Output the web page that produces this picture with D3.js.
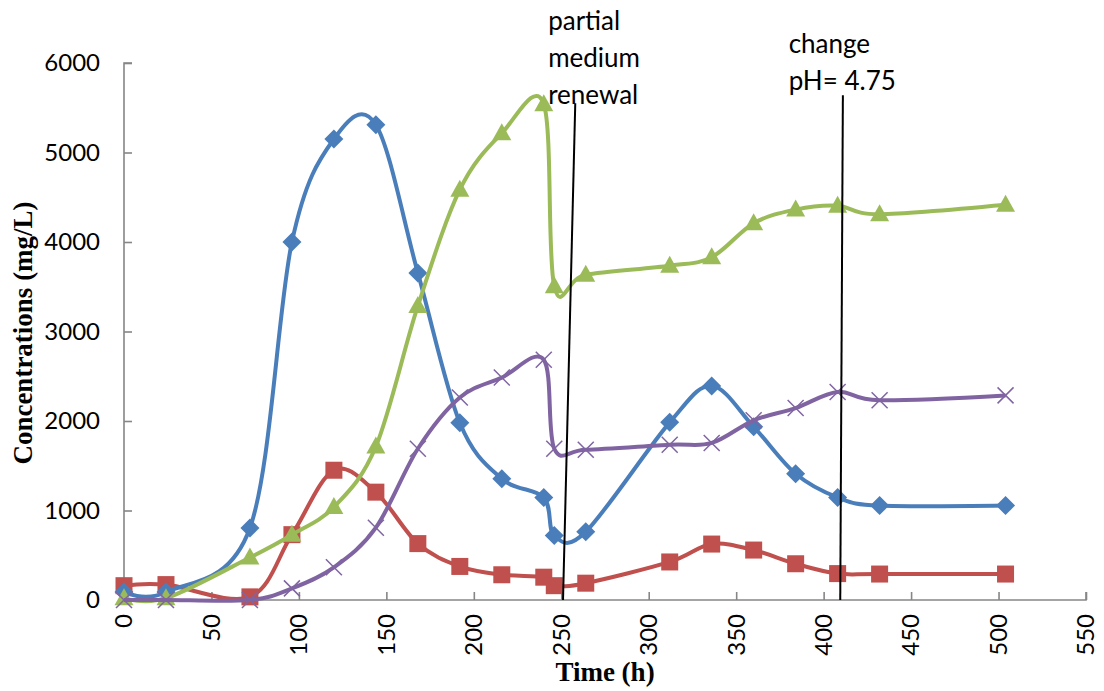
<!DOCTYPE html>
<html>
<head>
<meta charset="utf-8">
<script src="https://cdn.jsdelivr.net/npm/d3@7/dist/d3.min.js"></script>
<style>
  html, body { margin: 0; padding: 0; background: #fff; }
  svg { display: block; }
</style>
</head>
<body>
<svg id="chart" width="1104" height="691"></svg>
<script>
// ---- data ----
const timeH   = [0, 24, 72, 96, 120, 144, 168, 192, 216, 240, 246, 264, 312, 336, 360, 384, 408, 432, 504];
const blueS   = [90, 90, 805, 4000, 5150, 5310, 3655, 1980, 1355, 1145, 720, 762, 1985, 2390, 1935, 1410, 1146, 1055, 1055];
const redS    = [160, 172, 35, 730, 1450, 1205, 630, 375, 282, 255, 160, 188, 425, 625, 558, 405, 295, 290, 290];
const greenS  = [20, 20, 475, 730, 1039, 1715, 3285, 4585, 5215, 5540, 3505, 3635, 3735, 3830, 4210, 4362, 4405, 4310, 4415];
const purpleS = [0, 0, 0, 130, 365, 808, 1690, 2262, 2485, 2685, 1690, 1678, 1735, 1755, 2008, 2145, 2325, 2232, 2286];

const xTicks = [0, 50, 100, 150, 200, 250, 300, 350, 400, 450, 500, 550];
const yTicks = [0, 1000, 2000, 3000, 4000, 5000, 6000];

const annotations = [
  { lines: ["partial", "medium", "renewal"], tx: 242.5, ty0: 6369, x1: 258, y1: 5550, x2: 251, y2: 0 },
  { lines: ["change", "pH= 4.75"], tx: 380, ty0: 6112, x1: 411, y1: 5640, x2: 409.5, y2: 0 }
];

const series = [
  { name: "red",    values: redS,    color: "#C0504D", marker: "square" },
  { name: "blue",   values: blueS,   color: "#4A7EBB", marker: "diamond" },
  { name: "green",  values: greenS,  color: "#9BBB59", marker: "triangle" },
  { name: "purple", values: purpleS, color: "#8064A2", marker: "x" }
];

// ---- layout ----
const svg = d3.select("#chart");
const x = d3.scaleLinear().domain([0, 550]).range([124, 1086]);
const y = d3.scaleLinear().domain([0, 6000]).range([600, 63]);
const axisColor = "#868686";
const tickFont = "Lato, 'Open Sans', sans-serif";

// Y axis (ticks inside)
const gy = svg.append("g").attr("transform", `translate(${x(0)},0)`)
  .call(d3.axisRight(y).tickValues(yTicks).tickSize(8).tickFormat(""));
gy.selectAll("path, line").attr("stroke", axisColor).attr("stroke-width", 1.6);
gy.select(".domain").attr("d", `M8,${y(6000)}H0V${y(0)}`);

// X axis (ticks inside, pointing up)
const gx = svg.append("g").attr("transform", `translate(0,${y(0)})`)
  .call(d3.axisTop(x).tickValues(xTicks).tickSize(8).tickFormat(""));
gx.selectAll("path, line").attr("stroke", axisColor).attr("stroke-width", 1.6);
gx.select(".domain").attr("d", `M${x(0)},0H${x(550)}V-8`);

// Y tick labels
svg.append("g").selectAll("text").data(yTicks).join("text")
  .attr("x", 100).attr("y", d => y(d))
  .attr("dy", "0.35em")
  .attr("text-anchor", "end")
  .attr("font-family", tickFont).attr("font-size", 24).attr("fill", "#000")
  .text(d => d);

// X tick labels (rotated)
svg.append("g").selectAll("text").data(xTicks).join("text")
  .attr("transform", d => `translate(${x(d)},614) rotate(-90)`)
  .attr("dy", "0.35em")
  .attr("text-anchor", "end")
  .attr("font-family", tickFont).attr("font-size", 24).attr("fill", "#000")
  .text(d => d);

// Axis titles
svg.append("text")
  .attr("x", 605).attr("y", 681)
  .attr("text-anchor", "middle")
  .attr("font-family", "'Liberation Serif', 'Times New Roman', serif")
  .attr("font-weight", "bold").attr("font-size", 27)
  .text("Time (h)");
svg.append("text")
  .attr("transform", "translate(32,333) rotate(-90)")
  .attr("text-anchor", "middle")
  .attr("font-family", "'Liberation Serif', 'Times New Roman', serif")
  .attr("font-weight", "bold").attr("font-size", 27)
  .text("Concentrations (mg/L)");

// Series lines
const line = d3.line().curve(d3.curveCatmullRom.alpha(0))
  .x(d => x(d.t)).y(d => y(d.v));

series.forEach(s => {
  const pts = timeH.map((t, i) => ({ t, v: s.values[i] }));
  const g = svg.append("g");
  g.append("path").datum(pts)
    .attr("d", line)
    .attr("fill", "none")
    .attr("stroke", s.color)
    .attr("stroke-width", 4)
    .attr("stroke-linejoin", "round");
  const m = g.selectAll("g.m").data(pts).join("g")
    .attr("transform", d => `translate(${x(d.t)},${y(d.v)})`);
  if (s.marker === "square") {
    m.append("rect").attr("x", -8.5).attr("y", -8.5).attr("width", 17).attr("height", 17)
      .attr("fill", s.color);
  } else if (s.marker === "diamond") {
    m.append("path").attr("d", "M0,-9.5L9.5,0L0,9.5L-9.5,0Z").attr("fill", s.color);
  } else if (s.marker === "triangle") {
    m.append("path").attr("d", "M0,-10L9.5,7L-9.5,7Z").attr("fill", s.color);
  } else {
    m.append("path").attr("d", "M-8,-8L8,8M-8,8L8,-8")
      .attr("stroke", s.color).attr("stroke-width", 1.5).attr("fill", "none");
  }
});

// Annotations
annotations.forEach(a => {
  svg.append("line")
    .attr("x1", x(a.x1)).attr("y1", y(a.y1))
    .attr("x2", x(a.x2)).attr("y2", y(a.y2))
    .attr("stroke", "#000").attr("stroke-width", 2);
  const t = svg.append("text")
    .attr("font-family", tickFont).attr("font-size", 26).attr("fill", "#000");
  a.lines.forEach((ln, i) => {
    t.append("tspan").attr("x", x(a.tx)).attr("y", y(a.ty0) + i * 37).text(ln);
  });
});
</script>
</body>
</html>
